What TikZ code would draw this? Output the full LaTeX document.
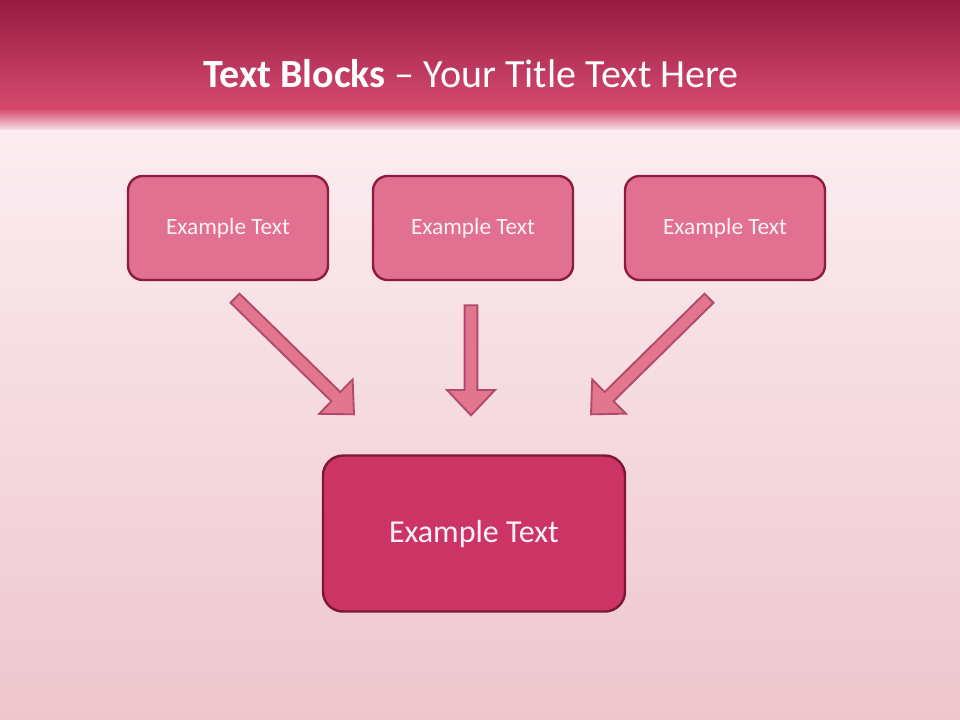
\documentclass[tikz,border=0pt]{standalone}
\usepackage{fontspec}
\setmainfont{Carlito}
\usepackage{tikz}
\usetikzlibrary{shapes, calc}
\definecolor{headtop}{HTML}{971B41}
\definecolor{headbot}{HTML}{D64B70}
\definecolor{bodytop}{HTML}{FBEDF1}
\definecolor{bodybot}{HTML}{EEC6CE}
\definecolor{boxfill}{HTML}{E27090}
\definecolor{boxline}{HTML}{8E1C40}
\definecolor{bigfill}{HTML}{CB3465}
\definecolor{bigline}{HTML}{7A1838}
\definecolor{arrowfill}{HTML}{E3768F}
\definecolor{arrowline}{HTML}{B14A6B}
\definecolor{textwhite}{HTML}{FDF2F5}
\tikzstyle{block} = [rectangle, draw=boxline, fill=boxfill, line width=1.8pt,
text=textwhite, text centered, rounded corners=11pt, minimum height=78pt, minimum width=150pt,
font=\fontsize{17.5}{20}\selectfont]
\tikzstyle{blockbig} = [rectangle, draw=bigline, fill=bigfill, line width=1.8pt,
text=textwhite, text centered, rounded corners=15pt, minimum height=117pt, minimum width=226.5pt,
font=\fontsize{24}{28}\selectfont]
\tikzstyle{line} = [draw=arrowline, fill=arrowfill, line width=1.4pt, line join=miter,
to path={($(\tikztotarget)!19pt!(\tikztostart)$) coordinate (hb)
($(\tikztostart)!4.8pt!90:(\tikztotarget)$) -- ($(hb)!4.8pt!-90:(\tikztostart)$)
-- ($(hb)!18pt!-90:(\tikztostart)$) -- (\tikztotarget) -- ($(hb)!18pt!90:(\tikztostart)$)
-- ($(hb)!4.8pt!90:(\tikztostart)$) -- ($(\tikztostart)!4.8pt!-90:(\tikztotarget)$) -- cycle}]

\begin{document}
\begin{tikzpicture}[x=0.75pt, y=-0.75pt, node distance = 183.75pt]
	\useasboundingbox (0,0) rectangle (960,720);
	
	% Background
	\shade [top color=headtop, bottom color=headbot] (0,0) rectangle (960,110);
	\shade [top color=headbot, bottom color=bodytop] (0,109) rectangle (960,132);
	\shade [top color=bodytop, bottom color=bodybot] (0,131) rectangle (960,720);
	\node [text=white, anchor=base, font=\fontsize{30}{35}\selectfont] (Title) at (471,88)
		{\textbf{Text Blocks} \textendash{} Your Title Text Here};
	
	% Place nodes
	\node [block] 									(Left Block) at (228,228) 	{Example Text};
	\node [block, right of=Left Block] 				(Middle Block) 				{Example Text};
	\node [block, right of=Middle Block, xshift=5.25pt] (Right Block) 			{Example Text};
	\node [blockbig, below of=Middle Block, yshift=-45.4pt, xshift=0.75pt] (Bottom Block) {Example Text};
	
	% Arrow ends
	\coordinate (Left Tail) 	at ($(Left Block.south)+(7,17)$);
	\coordinate (Left Tip) 		at ($(Bottom Block.north)+(-120,-40)$);
	\coordinate (Middle Tail) 	at ($(Middle Block.south)+(-2,24)$);
	\coordinate (Middle Tip) 	at ($(Bottom Block.north)+(-3,-39)$);
	\coordinate (Right Tail) 	at ($(Right Block.south)+(-16,17)$);
	\coordinate (Right Tip) 	at ($(Bottom Block.north)+(117,-40)$);
	
	%Draw edges
	\path [line] (Left Tail) 	to (Left Tip);
	\path [line] (Middle Tail) 	to (Middle Tip);
	\path [line] (Right Tail) 	to (Right Tip);
	
\end{tikzpicture}
\end{document}
